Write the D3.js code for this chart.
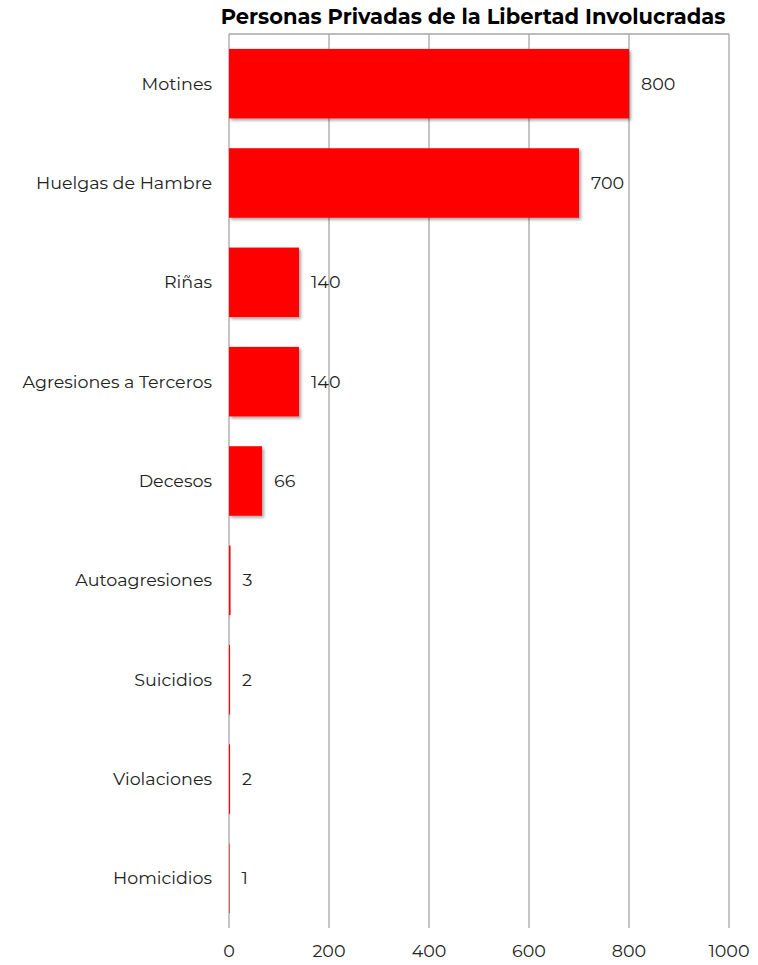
<!DOCTYPE html>
<html><head><meta charset="utf-8">
<script src="https://cdn.jsdelivr.net/npm/d3@7"></script>
<style>body{margin:0;background:#fff}</style>
</head><body>
<svg id="c" width="758" height="965"></svg>
<script>
const categories = ["Motines","Huelgas de Hambre","Riñas","Agresiones a Terceros","Decesos","Autoagresiones","Suicidios","Violaciones","Homicidios"];
const values = [800,700,140,140,66,3,2,2,1];
const ticks = [0,200,400,600,800,1000];
const title = "Personas Privadas de la Libertad Involucradas";

const svg = d3.select("#c");
const font = "Montserrat, 'Noto Sans', sans-serif";
const mLeft = 229, mRight = 729, mTop = 34, mBottom = 928;
const x = d3.scaleLinear().domain([0,1000]).range([mLeft,mRight]);
const y = d3.scaleBand().domain(categories).range([mTop,mBottom]).paddingInner(0.3).paddingOuter(0.15);

const defs = svg.append("defs");
const f = defs.append("filter").attr("id","sh").attr("x","-10%").attr("y","-10%").attr("width","130%").attr("height","130%");
f.append("feDropShadow").attr("dx",2).attr("dy",2).attr("stdDeviation",1.5).attr("flood-color","#000").attr("flood-opacity",0.35);

// grid
svg.append("g").selectAll("line").data(ticks).join("line")
  .attr("x1",d=>x(d)).attr("x2",d=>x(d)).attr("y1",mTop).attr("y2",mBottom)
  .attr("stroke","#a6a6a6").attr("stroke-width",1.3);
svg.append("line").attr("x1",mLeft).attr("x2",mRight).attr("y1",mTop).attr("y2",mTop)
  .attr("stroke","#a6a6a6").attr("stroke-width",1.3);

// bars
svg.append("g").selectAll("rect").data(values).join("rect")
  .attr("x",x(0)).attr("y",(d,i)=>y(categories[i]))
  .attr("width",d=>x(d)-x(0)).attr("height",y.bandwidth())
  .attr("fill","#ff0000").attr("filter","url(#sh)");

// value labels
svg.append("g").selectAll("text").data(values).join("text")
  .attr("x",d=>x(d)+12).attr("y",(d,i)=>y(categories[i])+y.bandwidth()/2)
  .attr("dy","0.35em").attr("font-family",font).attr("font-size",17.5).attr("fill","#222")
  .text(d=>d);

// category labels
svg.append("g").selectAll("text").data(categories).join("text")
  .attr("x",212).attr("y",d=>y(d)+y.bandwidth()/2).attr("dy","0.35em")
  .attr("text-anchor","end").attr("font-family",font).attr("font-size",17.5).attr("fill","#222")
  .text(d=>d);

// tick labels
svg.append("g").selectAll("text").data(ticks).join("text")
  .attr("x",d=>x(d)).attr("y",951).attr("dy","0.35em").attr("text-anchor","middle")
  .attr("font-family",font).attr("font-size",17.5).attr("fill","#222").text(d=>d);

// title
svg.append("text").attr("x",473).attr("y",24).attr("text-anchor","middle")
  .attr("font-family",font).attr("font-weight","bold").attr("font-size",21).attr("fill","#000")
  .text(title);
</script>
</body></html>
